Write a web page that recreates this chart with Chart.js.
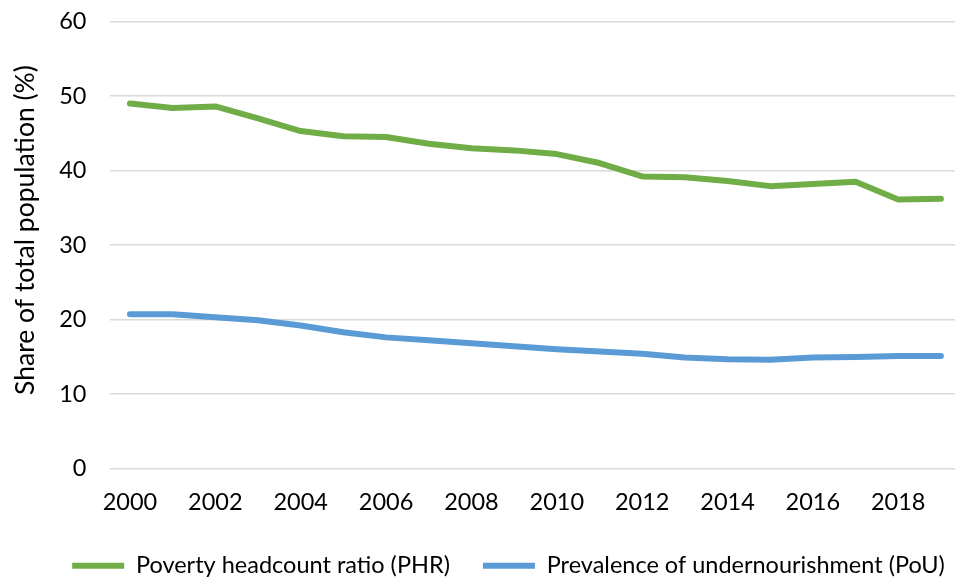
<!DOCTYPE html>
<html>
<head>
<meta charset="utf-8">
<script src="https://cdn.jsdelivr.net/npm/chart.js@4.4.1/dist/chart.umd.min.js"></script>
<style>
  html, body { margin: 0; padding: 0; background: #ffffff; }
  #wrap { width: 955px; height: 577px; position: relative; }
</style>
</head>
<body>
<div id="wrap"><canvas id="chart"></canvas></div>
<script>
// Years covered by both series
const years = [2000, 2001, 2002, 2003, 2004, 2005, 2006, 2007, 2008, 2009,
               2010, 2011, 2012, 2013, 2014, 2015, 2016, 2017, 2018, 2019];

// Poverty headcount ratio (PHR), % of total population
const phrValues = [49.0, 48.4, 48.6, 47.0, 45.3, 44.6, 44.5, 43.6, 43.0, 42.7,
                   42.2, 41.0, 39.2, 39.1, 38.6, 37.9, 38.2, 38.5, 36.1, 36.2];

// Prevalence of undernourishment (PoU), % of total population
const pouValues = [20.7, 20.7, 20.3, 19.9, 19.2, 18.3, 17.6, 17.2, 16.8, 16.4,
                   16.0, 15.7, 15.4, 14.9, 14.65, 14.6, 14.9, 14.95, 15.1, 15.1];

// Axis tick labels
const xTickYears = [2000, 2002, 2004, 2006, 2008, 2010, 2012, 2014, 2016, 2018];
const yTickValues = [0, 10, 20, 30, 40, 50, 60];

const seriesNames = ['Poverty headcount ratio (PHR)', 'Prevalence of undernourishment (PoU)'];
const yAxisTitle = 'Share of total population (%)';

const FONT_FAMILY = 'Lato, "Open Sans", "DejaVu Sans", sans-serif';
const FONT_SIZE = 23.5;
const TITLE_SIZE = 26.5;
const TEXT_COLOR = '#000000';
const GREEN = '#70ad47';
const BLUE = '#5b9bd5';

const toPoints = (vals) => years.map((y, i) => ({ x: y, y: vals[i] }));

// Rotated y-axis title, drawn beside the tick labels
const yTitlePlugin = {
  id: 'yTitle',
  afterDraw(chart) {
    const ctx = chart.ctx;
    ctx.save();
    ctx.translate(25, 230);
    ctx.rotate(-Math.PI / 2);
    ctx.font = TITLE_SIZE + 'px ' + FONT_FAMILY;
    ctx.fillStyle = TEXT_COLOR;
    ctx.textAlign = 'center';
    ctx.textBaseline = 'middle';
    ctx.fillText(yAxisTitle, 0, 0);
    ctx.restore();
  }
};

// Nudge the legend row so it sits under the plot
const LEGEND_SHIFT_X = 31;
const LEGEND_SHIFT_Y = 1;
const legendShiftPlugin = {
  id: 'legendShift',
  afterLayout(chart) {
    const lg = chart.legend;
    if (lg) {
      lg.left += LEGEND_SHIFT_X; lg.right += LEGEND_SHIFT_X;
      lg.top += LEGEND_SHIFT_Y; lg.bottom += LEGEND_SHIFT_Y;
    }
  }
};

new Chart(document.getElementById('chart'), {
  type: 'line',
  data: {
    datasets: [
      {
        label: seriesNames[0],
        data: toPoints(phrValues),
        borderColor: GREEN,
        backgroundColor: GREEN,
        borderWidth: 6,
        borderCapStyle: 'round',
        borderJoinStyle: 'round',
        pointRadius: 0,
        pointHoverRadius: 0,
        tension: 0,
        fill: false
      },
      {
        label: seriesNames[1],
        data: toPoints(pouValues),
        borderColor: BLUE,
        backgroundColor: BLUE,
        borderWidth: 6,
        borderCapStyle: 'round',
        borderJoinStyle: 'round',
        pointRadius: 0,
        pointHoverRadius: 0,
        tension: 0,
        fill: false
      }
    ]
  },
  options: {
    responsive: true,
    maintainAspectRatio: false,
    animation: false,
    devicePixelRatio: 1,
    layout: { padding: { top: 21.5, right: 0, bottom: 0, left: 0 } },
    plugins: {
      tooltip: { enabled: false },
      legend: {
        position: 'bottom',
        maxHeight: 57,
        labels: {
          usePointStyle: true,
          pointStyle: 'line',
          pointStyleWidth: 52,
          padding: 33,
          color: TEXT_COLOR,
          font: { family: FONT_FAMILY, size: FONT_SIZE }
        }
      }
    },
    scales: {
      x: {
        type: 'linear',
        min: 1999.52,
        max: 2019.33,
        afterBuildTicks: (scale) => { scale.ticks = xTickYears.map(v => ({ value: v })); },
        afterFit: (scale) => { scale.height = 51.5; },
        grid: { display: false },
        border: { display: false },
        ticks: {
          autoSkip: false,
          maxRotation: 0,
          padding: 12,
          color: TEXT_COLOR,
          font: { family: FONT_FAMILY, size: FONT_SIZE },
          callback: (v) => String(v)
        }
      },
      y: {
        min: 0,
        max: 60,
        afterBuildTicks: (scale) => { scale.ticks = yTickValues.map(v => ({ value: v })); },
        afterFit: (scale) => {
          scale.width = 109.5;
          scale.paddingTop = 0;
          scale.paddingBottom = 0;
        },
        grid: { color: '#d9d9d9', lineWidth: 1.5, drawTicks: false },
        border: { display: false },
        ticks: {
          padding: 23,
          color: TEXT_COLOR,
          font: { family: FONT_FAMILY, size: FONT_SIZE }
        }
      }
    }
  },
  plugins: [yTitlePlugin, legendShiftPlugin]
});
</script>
</body>
</html>
